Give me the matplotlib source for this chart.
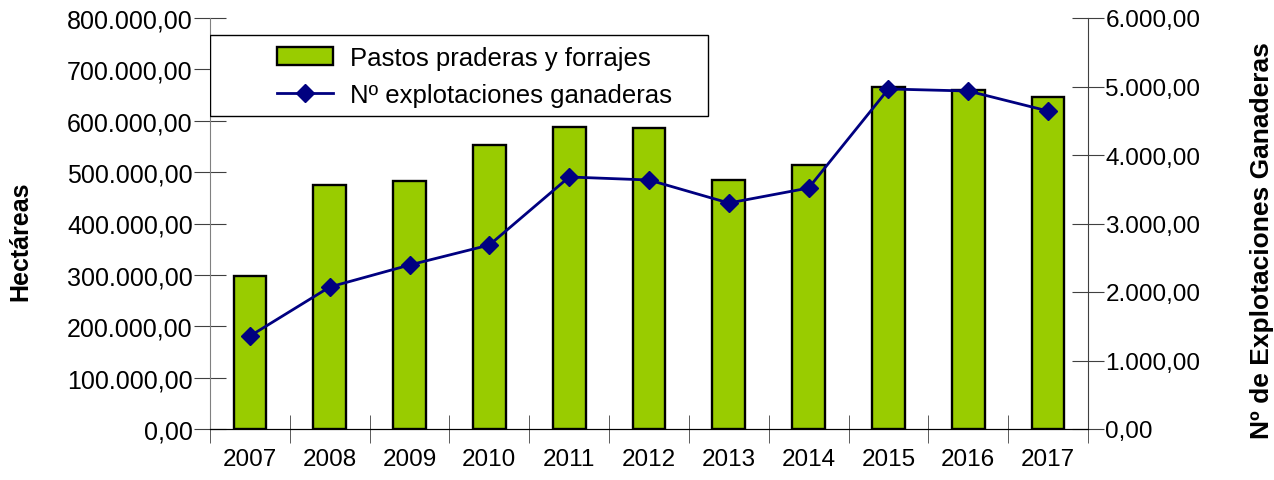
import matplotlib.pyplot as plt
from matplotlib.patches import Rectangle
from matplotlib.ticker import FuncFormatter, FixedLocator

plt.rcParams['font.family'] = ['Liberation Sans', 'DejaVu Sans']

years = ['2007', '2008', '2009', '2010', '2011', '2012', '2013', '2014', '2015', '2016', '2017']
hectareas = [298000, 475000, 483000, 553000, 588000, 586000, 485000, 514000, 666000, 660000, 646000]
explotaciones = [1357, 2073, 2394, 2686, 3679, 3635, 3299, 3518, 4964, 4934, 4642]


def es_fmt(v, pos):
    s = f'{v:,.2f}'
    return s.replace(',', 'X').replace('.', ',').replace('X', '.')


fig = plt.figure(figsize=(12.74, 4.81), dpi=100)
ax1 = fig.add_axes([210 / 1274, 51 / 481, 878 / 1274, 411 / 481])
ax2 = ax1.twinx()

x = list(range(len(years)))
b = ax1.bar(x, hectareas, width=0.41, color='#99cc00', edgecolor='black', linewidth=1.7,
            label='Pastos praderas y forrajes', zorder=2)
ln = ax2.plot(x, explotaciones, color='#000080', linewidth=2, marker='D', markersize=9,
              label='Nº explotaciones ganaderas', zorder=3)

ax1.set_xlim(-0.5, len(years) - 0.5)
ax1.set_ylim(0, 800000)
ax2.set_ylim(0, 6000)
ax1.set_yticks(range(0, 800001, 100000))
ax2.set_yticks(range(0, 6001, 1000))
ax1.yaxis.set_major_formatter(FuncFormatter(es_fmt))
ax2.yaxis.set_major_formatter(FuncFormatter(es_fmt))

fs = 17.5
ax1.set_xticks(x)
ax1.set_xticklabels(years)
ax1.xaxis.set_minor_locator(FixedLocator([i - 0.5 for i in range(len(years) + 1)]))
ax1.tick_params(axis='x', which='major', length=0, labelsize=fs, pad=14)
ax1.tick_params(axis='x', which='minor', length=20, direction='inout', color='#404040')
ax1.tick_params(axis='y', length=23, direction='inout', labelsize=18, pad=1, color='#404040')
ax2.tick_params(axis='y', length=23, direction='inout', labelsize=fs, pad=1, color='#404040')

for a in (ax1, ax2):
    a.spines['top'].set_visible(False)
    a.spines['left'].set_color('#808080')
    a.spines['right'].set_color('#404040')
    a.spines['bottom'].set_color('black')
ax2.spines['left'].set_visible(False)
ax1.spines['right'].set_visible(False)

ax1.set_ylabel('Hectáreas', fontsize=18, fontweight='bold')
ax2.set_ylabel('Nº de Explotaciones Ganaderas', fontsize=19, fontweight='bold')
ax1.yaxis.set_label_coords(-0.202, 0.46)
ax2.yaxis.set_label_coords(1.184, 0.46)

# legend frame
ax2.add_patch(Rectangle((0.0, 0.762), 0.567, 0.197, transform=ax2.transAxes,
                        facecolor='white', edgecolor='black', linewidth=1, zorder=4))
leg = ax2.legend([b, ln[0]], ['Pastos praderas y forrajes', 'Nº explotaciones ganaderas'],
                 loc='center left', bbox_to_anchor=(0.076, 0.858), frameon=False,
                 fontsize=18.5, handlelength=2.2, handletextpad=0.65, labelspacing=0.5,
                 borderpad=0, borderaxespad=0)
leg.set_zorder(5)

fig.savefig('out.png', dpi=100)
